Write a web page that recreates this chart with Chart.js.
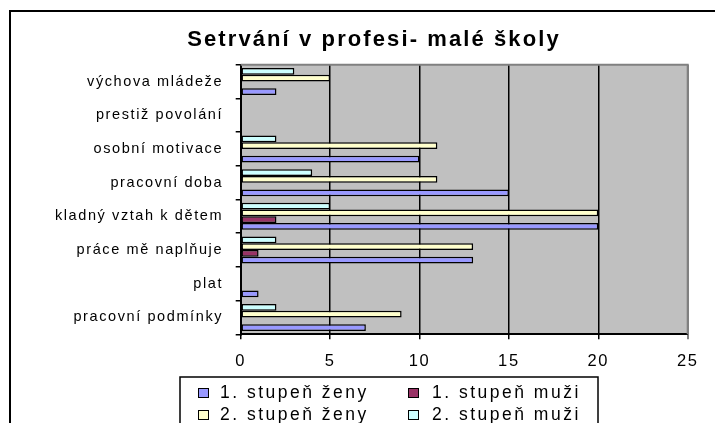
<!DOCTYPE html>
<html>
<head>
<meta charset="utf-8">
<script src="https://cdn.jsdelivr.net/npm/chart.js@4.4.0/dist/chart.umd.min.js"></script>
<style>
  html, body { margin:0; padding:0; background:#fff; width:715px; height:423px; overflow:hidden; }
  #frame { position:absolute; left:9px; top:10px; width:726px; height:440px; border:2px solid #000; }
  #wrap { position:absolute; left:0; top:0; width:726px; height:440px; }
</style>
</head>
<body>
<div id="frame"><div id="wrap"><canvas id="c" width="726" height="440"></canvas></div></div>
<script>
const titleText = 'Setrvání v profesi- malé školy';
const categories = ['výchova mládeže','prestiž povolání','osobní motivace','pracovní doba','kladný vztah k dětem','práce mě naplňuje','plat','pracovní podmínky'];
const seriesNames = ['1. stupeň ženy','1. stupeň muži','2. stupeň ženy','2. stupeň muži'];
const zeny1 = [2,0,10,15,20,13,1,7];
const muzi1 = [0,0,0,0,2,1,0,0];
const zeny2 = [5,0,11,11,20,13,0,9];
const muzi2 = [3,0,2,4,5,2,0,2];
const xTicks = [0,5,10,15,20,25];

const FONT = '"Liberation Sans", Arial, sans-serif';
const colors = ['#9999FF','#993366','#FFFFCC','#CCFFFF'];
const seriesData = [zeny1, muzi1, zeny2, muzi2];

// bars within a group: drawn top-to-bottom as 2. muži, 2. ženy, 1. muži, 1. ženy
const drawOrder = [3,2,1,0];
const datasets = drawOrder.map(i => ({
  label: seriesNames[i],
  data: seriesData[i],
  backgroundColor: colors[i],
  borderColor: '#000',
  borderWidth: 1.5,
  borderSkipped: false,
  categoryPercentage: 0.8,
  barPercentage: 1.0,
  inflateAmount: 0
}));

const bgPlugin = {
  id: 'bg',
  beforeDraw(chart) {
    const {ctx, chartArea: a} = chart;
    ctx.letterSpacing = '0px';
    ctx.save();
    ctx.fillStyle = '#C0C0C0';
    ctx.fillRect(a.left, a.top, a.right - a.left, a.bottom - a.top);
    ctx.restore();
    ctx.letterSpacing = '2.1px';
  },
  afterDatasetsDraw(chart) {
    const {ctx, chartArea: a} = chart;
    ctx.letterSpacing = '0px';
    ctx.save();
    ctx.strokeStyle = '#808080';
    ctx.lineWidth = 2;
    ctx.beginPath();
    ctx.moveTo(a.left, a.top);
    ctx.lineTo(a.right, a.top);
    ctx.lineTo(a.right, a.bottom);
    ctx.stroke();
    ctx.restore();
    ctx.letterSpacing = '1.6px';
  },
  afterDraw(chart) {
    const ctx = chart.ctx;
    ctx.letterSpacing = '0px';
    ctx.save();
    // legend box
    const bx = 169, by = 365, bw = 418, bh = 70;
    ctx.fillStyle = '#fff';
    ctx.fillRect(bx, by, bw, bh);
    ctx.strokeStyle = '#000';
    ctx.lineWidth = 1.5;
    ctx.strokeRect(bx, by, bw, bh);
    ctx.font = '17.5px ' + FONT;
    ctx.textBaseline = 'middle';
    ctx.textAlign = 'left';
    ctx.letterSpacing = '2.5px';
    const cols = [187, 397], txt = [209, 421], rows = [381, 403];
    for (let i = 0; i < seriesNames.length; i++) {
      const c = i % 2, r = Math.floor(i / 2);
      ctx.fillStyle = colors[i];
      ctx.fillRect(cols[c], rows[r] - 5, 11, 10);
      ctx.strokeStyle = '#000';
      ctx.lineWidth = 1;
      ctx.strokeRect(cols[c] + 0.5, rows[r] - 4.5, 10, 9);
      ctx.fillStyle = '#000';
      ctx.fillText(seriesNames[i], txt[c], rows[r]);
    }
    ctx.restore();
    ctx.letterSpacing = '0px';
  }
};

new Chart(document.getElementById('c'), {
  type: 'bar',
  data: { labels: categories, datasets },
  options: {
    indexAxis: 'y',
    responsive: false,
    animation: false,
    layout: { padding: { left: 0, right: 0, top: 0, bottom: 0 } },
    plugins: {
      legend: { display: false },
      tooltip: { enabled: false },
      title: {
        display: true,
        text: titleText,
        color: '#000',
        font: { family: FONT, size: 22, weight: 'bold' },
        padding: { top: 14.8, bottom: 11.5 }
      }
    },
    scales: {
      x: {
        type: 'linear',
        min: xTicks[0],
        max: xTicks[xTicks.length - 1],
        afterBuildTicks(s) { s.ticks = xTicks.map(v => ({ value: v })); },
        afterFit(s) { s.height = 117.7; },
        ticks: { color: '#000', font: { family: FONT, size: 16.5 }, padding: 12.5, maxRotation: 0, z: 1 },
        grid: {
          color: ctx => (ctx.tick && ctx.tick.value === 25) ? '#808080' : '#000',
          lineWidth: ctx => (ctx.tick && ctx.tick.value === 25) ? 2 : 1.5,
          tickLength: 5,
          drawTicks: true
        },
        border: { display: true, color: '#000', width: 2 }
      },
      y: {
        afterFit(s) { s.width = 229.7; },
        ticks: { color: '#000', font: { family: FONT, size: 14.5 }, padding: 12.6, z: 1, autoSkip: false },
        grid: {
          offset: true,
          drawOnChartArea: false,
          tickLength: 5,
          color: '#000',
          lineWidth: 1.5
        },
        border: { display: true, color: '#000', width: 2 }
      },
      yRight: {
        type: 'category',
        position: 'right',
        afterFit(s) { s.width = 49.3; },
        ticks: { display: false },
        grid: { display: false },
        border: { display: false }
      }
    }
  },
  plugins: [bgPlugin]
});
</script>
</body>
</html>
